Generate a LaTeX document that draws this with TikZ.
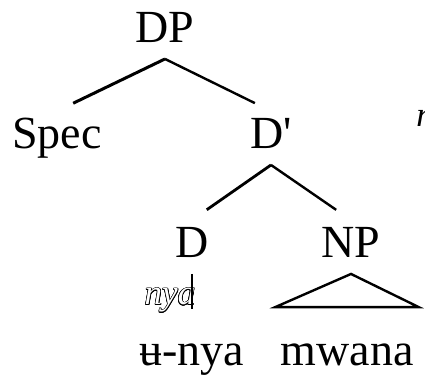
\documentclass[tikz,border=0pt]{standalone}
\usepackage{fontspec}
\setmainfont{Liberation Serif}
\usepackage{contour}
\contourlength{0.6pt}
\usetikzlibrary{positioning}

\begin{document}
\begin{tikzpicture}[
    on grid,
    font=\rmfamily\fontsize{46}{50}\selectfont,
    text height=32pt,
    text depth=11.5pt,
    inner sep=4pt,
    line width=2.4pt,
    branch/.style={shorten >=18pt},
    gloss/.style={font=\rmfamily\fontsize{35}{40}\selectfont\itshape,
        text height=24.5pt, text depth=8.75pt, inner sep=0pt}]
    \useasboundingbox (0,0) rectangle (425pt,-378pt);
    % NODES
    % root
    \node (DP) at (165pt,-32pt) {DP};
    % specifier and bar level
    \node[below left = 106pt and 108pt of DP] (Spec) {Spec};
    \node[below right = 106pt and 106pt of DP] (Dbar) {D\textquotesingle};
    % head and complement
    \node[below left = 109pt and 79pt of Dbar] (D) {D};
    \node[below right = 109pt and 80pt of Dbar] (NP) {NP};
    % words
    \node[below = 108pt of D] (Dword) {ʉ-nya};
    \node[below left = 108pt and 4pt of NP] (NPword) {mwana};
    % glosses
    \node[gloss, below left = 50pt and 22pt of D] (nyaD) {\contour{black}{\color{white}nya}};
    \node[gloss, above right = 19pt and 154pt of Dbar] (cut) {n};

    % BRANCHES
    \draw[branch, line width=3pt] (DP.south)--(Spec.north);
    \draw[branch] (DP.south)--(Dbar.north);
    \draw[branch, line width=2.8pt] (Dbar.south)--(D.north);
    \draw[branch] (Dbar.south)--(NP.north);
    \draw[line width=1.6pt] (D.south)--([yshift=19pt]Dword.north);
    \draw (NP.south)--([yshift=21pt]NPword.north west)--([yshift=21pt]NPword.north east)--cycle;
  \end{tikzpicture}
\end{document}
